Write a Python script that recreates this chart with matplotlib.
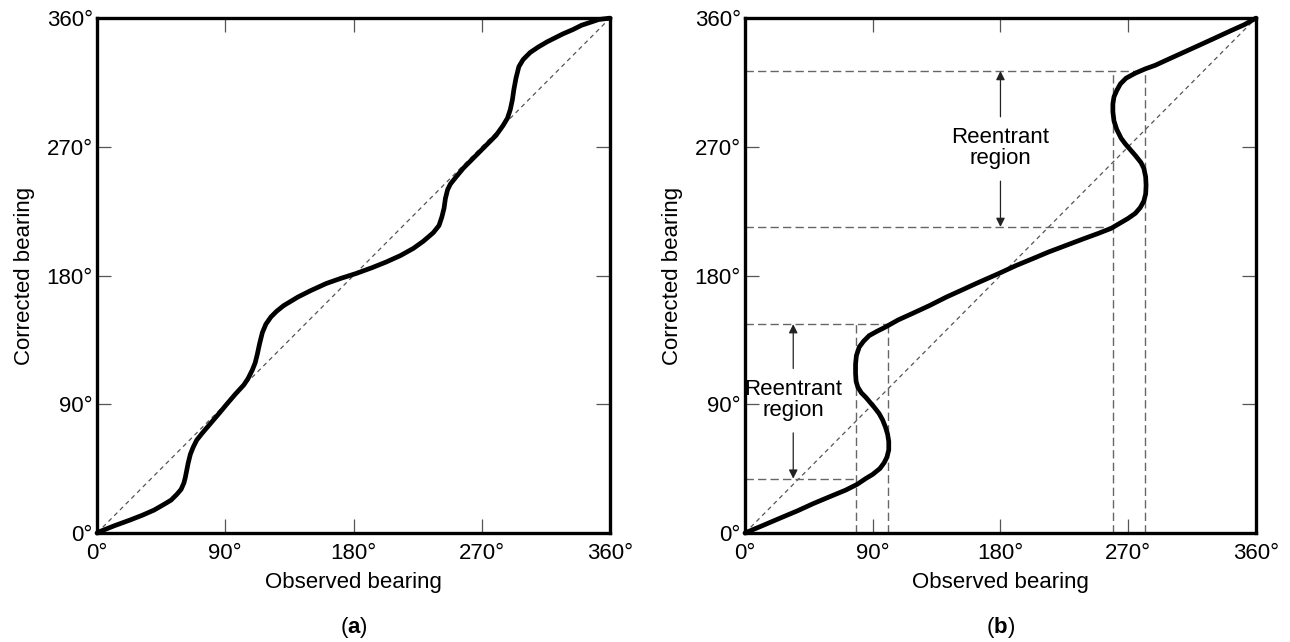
''' Observed vs corrected bearing, (a) monotonic and (b) reentrant errors '''

from matplotlib import pyplot as plt

plt.rcParams['font.family'] = ['Liberation Sans', 'DejaVu Sans']
plt.rcParams['mathtext.fontset'] = 'custom'
plt.rcParams['mathtext.rm'] = 'Liberation Sans'
plt.rcParams['mathtext.bf'] = 'Liberation Sans:bold'

ticks = [0, 90, 180, 270, 360]
tick_labels = ["0°", "90°", "180°", "270°", "360°"]

# panel (a) curve, observed -> corrected (degrees)
obs_a = [0, 2, 12, 23, 32, 40, 47, 52, 56, 59, 61, 62, 63, 64, 65.5, 67.5, 70,
         74, 80, 86, 91, 97, 103, 106, 109, 111, 112.5, 114, 116, 118.5, 122,
         126, 131, 136, 141, 150, 161, 171, 182, 193, 203, 213, 222, 229, 236,
         240, 242, 243.5, 244.5, 246, 248, 252, 257, 265, 274, 280, 285, 288,
         290, 291.5, 292.5, 294, 296, 299, 304, 310, 316, 322, 327, 334, 340,
         346, 352, 360]
cor_a = [0, 1, 5, 9, 12.5, 16, 20, 23, 27, 30.5, 35, 39, 44, 49, 55, 60, 65,
         70, 77, 84, 90, 97, 103.5, 108, 114, 119, 125, 132, 140, 146, 151,
         155, 159, 162, 165, 169.5, 174.5, 178, 181.5, 185.5, 189.5, 194, 199,
         204, 210, 215, 221, 227, 234, 240, 244, 249, 255, 263, 272, 278, 285,
         290, 296, 303, 310, 318, 326, 331, 336, 340, 343.5, 346.5, 349, 352,
         355, 357, 359, 360]

# panel (b) curve, folds back on itself
obs_b = [0, 12, 25, 37, 48, 60, 71, 79, 85, 90, 95, 98, 100, 101.3, 101.3,
         100.5, 99, 97, 94.5, 91, 88, 85, 82, 79.5, 78.3, 77.9, 77.9, 78.5,
         80.5, 83.5, 87.5, 93, 99, 108, 118, 130, 142, 152, 163, 171, 179,
         191, 202, 214, 226, 238, 249, 258, 264, 270, 275, 278.5, 281, 282.3,
         282.6, 282.3, 281, 279, 275, 271.5, 268, 265, 262, 260, 259.2, 259.2,
         260, 262, 264.5, 268.5, 275, 282, 289, 300, 310, 320, 331, 343, 352,
         360]
cor_b = [0, 5, 10.5, 15.5, 20.5, 25.5, 30, 34, 38, 41, 45, 49, 53, 58, 64,
         69, 74, 79, 83.5, 88, 91.5, 95, 98, 102, 106, 111.5, 118, 124, 130,
         134, 138, 141, 144, 149, 153.5, 159, 165, 169.5, 174.5, 178, 181.5,
         187, 191.5, 196.5, 201, 205.5, 209.5, 213, 216.5, 220, 223.5, 227.5,
         232, 237, 243, 249, 255, 259, 264, 268, 272, 276, 282, 288, 294.5,
         300, 305, 309.5, 314, 318, 321.5, 324.5, 327, 332, 336.5, 341, 346,
         351.5, 355.5, 360]

# reentrant region bounds in (b)
low_x = [78, 101]
low_y = [38, 146]
high_x = [259, 282]
high_y = [214, 323]
arrow_x = [34, 180]
label_y = [93, 269]

fig = plt.figure(figsize=(12.9, 6.42), dpi=100)
ax_a = fig.add_axes([0.0752, 0.1698, 0.3977, 0.802])
ax_b = fig.add_axes([0.5775, 0.1698, 0.3961, 0.802])

for ax, tag in zip([ax_a, ax_b], ["a", "b"]):
    ax.plot([0, 360], [0, 360], color="#555555", lw=0.9, ls=(0, (3.5, 3)))
    ax.set_xlim(0, 360)
    ax.set_ylim(0, 360)
    ax.set_xticks(ticks)
    ax.set_xticklabels(tick_labels)
    ax.set_yticks(ticks)
    ax.set_yticklabels(tick_labels)
    ax.tick_params(direction="in", length=10, width=0.9, color="#555555",
                   top=True, right=True, labelsize=16)
    ax.tick_params(axis="x", pad=7)
    ax.tick_params(axis="y", pad=3)
    for s in ax.spines.values():
        s.set_linewidth(2.4)
    ax.set_xlabel("Observed bearing", fontsize=16, labelpad=6)
    ax.set_ylabel("Corrected bearing", fontsize=16, labelpad=8)
    ax.text(0.5, -0.183, r"($\mathbf{%s}$)" % tag, transform=ax.transAxes,
            ha="center", va="center", fontsize=16)

ax_a.plot(obs_a, cor_a, color="black", lw=3.4, solid_capstyle="round",
          solid_joinstyle="round", clip_on=False)

# guide lines around the reentrant regions
guide = dict(color="#666666", lw=1.0, ls=(0, (6, 3)))
for xs, ys in [(low_x, low_y), (high_x, high_y)]:
    ax_b.plot([0, xs[0]], [ys[0], ys[0]], **guide)
    ax_b.plot([0, xs[1]], [ys[1], ys[1]], **guide)
    ax_b.plot([xs[0], xs[0]], [0, ys[1]], **guide)
    ax_b.plot([xs[1], xs[1]], [0, ys[1]], **guide)

ax_b.plot(obs_b, cor_b, color="black", lw=3.4, solid_capstyle="round",
          solid_joinstyle="round", clip_on=False)

arrow = dict(arrowstyle="-|>", color="#222222", lw=0.9, mutation_scale=13,
             shrinkA=0, shrinkB=0)
for xa, ly, ys in zip(arrow_x, label_y, [low_y, high_y]):
    ax_b.text(xa, ly, "Reentrant\nregion", ha="center", va="center",
              fontsize=16, linespacing=1.0)
    ax_b.annotate("", xy=(xa, ys[1]), xytext=(xa, ly + 22), arrowprops=arrow)
    ax_b.annotate("", xy=(xa, ys[0]), xytext=(xa, ly - 23), arrowprops=arrow)

plt.savefig("out.png", dpi=100, facecolor="white")
